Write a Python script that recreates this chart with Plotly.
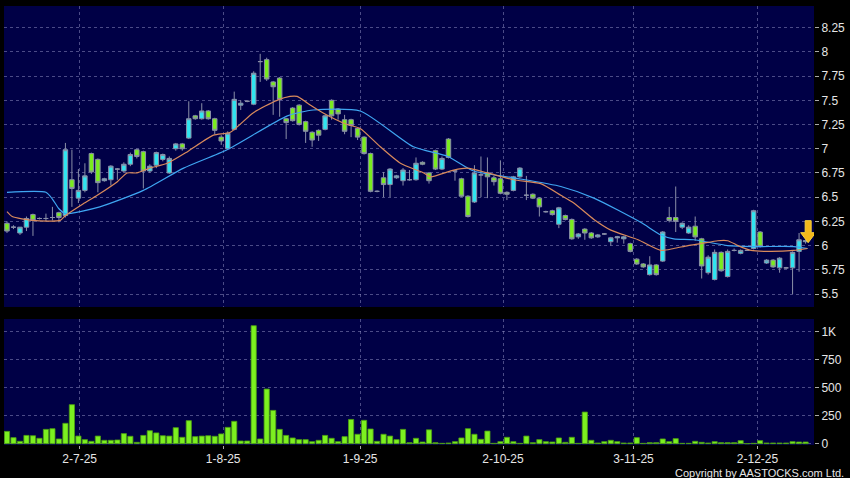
import plotly.graph_objects as go
from plotly.subplots import make_subplots

# daily candles, oldest first (one entry per trading session)
opens = [6.23, 6.19, 6.13, 6.19, 6.32, 6.28, 6.28, 6.29, 6.34, 6.31,
         6.68, 6.49, 6.57, 6.95, 6.89, 6.67, 6.68, 6.79, 6.77, 6.84,
         6.99, 6.97, 6.77, 6.83, 6.89, 6.75, 7.00, 7.05, 7.11, 7.34,
         7.31, 7.39, 7.31, 7.12, 7.00, 7.20, 7.45, 7.49, 7.46, 7.90,
         7.92, 7.69, 7.73, 7.31, 7.42, 7.45, 7.28, 7.17, 7.19, 7.20,
         7.50, 7.41, 7.30, 7.30, 7.21, 7.12, 6.95, 6.56, 6.70, 6.63,
         6.70, 6.67, 6.68, 6.68, 6.86, 6.75, 6.98, 6.79, 7.10, 6.77,
         6.69, 6.51, 6.45, 6.73, 6.75, 6.70, 6.69, 6.55, 6.57, 6.71,
         6.52, 6.53, 6.49, 6.35, 6.36, 6.22, 6.31, 6.27, 6.09, 6.17,
         6.13, 6.09, 6.12, 6.04, 6.08, 6.07, 6.02, 5.86, 5.81, 5.70,
         5.80, 5.84, 6.29, 6.29, 6.19, 6.13, 6.20, 6.07, 5.72, 5.65,
         5.93, 5.68, 5.95, 5.92, 5.95, 5.97, 6.14, 5.82, 5.85, 5.77,
         5.77, 5.77, 5.94, 6.04]
highs = [6.25, 6.21, 6.19, 6.30, 6.33, 6.29, 6.33, 6.40, 6.35, 7.06,
         6.99, 6.79, 6.85, 6.96, 6.90, 6.70, 6.83, 6.80, 6.86, 6.96,
         7.00, 6.98, 6.84, 6.97, 6.95, 6.92, 7.06, 7.06, 7.49, 7.35,
         7.47, 7.40, 7.32, 7.14, 7.18, 7.59, 7.50, 7.50, 7.80, 7.98,
         7.94, 7.70, 7.74, 7.32, 7.43, 7.46, 7.29, 7.18, 7.20, 7.35,
         7.51, 7.42, 7.35, 7.31, 7.22, 7.13, 6.96, 6.57, 6.76, 6.80,
         6.73, 6.80, 6.78, 6.91, 6.87, 6.76, 6.99, 6.92, 7.11, 6.78,
         6.70, 6.52, 6.83, 6.92, 6.91, 6.72, 6.88, 6.56, 6.72, 6.81,
         6.72, 6.54, 6.50, 6.36, 6.37, 6.40, 6.32, 6.28, 6.13, 6.18,
         6.14, 6.12, 6.13, 6.09, 6.10, 6.10, 6.03, 5.87, 5.82, 5.89,
         5.81, 6.15, 6.40, 6.61, 6.24, 6.21, 6.30, 6.08, 5.90, 5.96,
         5.94, 5.96, 5.97, 5.96, 5.96, 6.37, 6.15, 5.86, 5.86, 5.88,
         5.78, 5.94, 6.13, 6.06]
lows = [6.13, 6.17, 6.11, 6.15, 6.10, 6.27, 6.25, 6.26, 6.24, 6.29,
        6.40, 6.44, 6.55, 6.74, 6.55, 6.66, 6.62, 6.68, 6.75, 6.82,
        6.90, 6.59, 6.75, 6.80, 6.87, 6.74, 6.98, 6.98, 7.10, 7.30,
        7.30, 7.30, 7.15, 7.04, 6.99, 7.19, 7.40, 7.48, 7.45, 7.69,
        7.70, 7.35, 7.33, 7.10, 7.28, 7.24, 7.06, 7.02, 7.08, 7.19,
        7.30, 7.30, 7.15, 7.12, 7.09, 6.94, 6.55, 6.55, 6.50, 6.50,
        6.69, 6.62, 6.67, 6.67, 6.83, 6.64, 6.78, 6.78, 6.90, 6.67,
        6.50, 6.29, 6.44, 6.50, 6.49, 6.62, 6.53, 6.47, 6.56, 6.70,
        6.47, 6.48, 6.30, 6.34, 6.31, 6.18, 6.26, 6.06, 6.07, 6.06,
        6.07, 6.08, 6.11, 6.00, 6.03, 6.02, 5.93, 5.80, 5.77, 5.69,
        5.69, 5.83, 6.24, 6.14, 6.17, 6.12, 6.05, 5.66, 5.70, 5.64,
        5.73, 5.67, 5.94, 5.91, 5.95, 5.96, 5.98, 5.81, 5.77, 5.72,
        5.76, 5.50, 5.73, 6.02]
closes = [6.15, 6.19, 6.19, 6.28, 6.26, 6.28, 6.28, 6.29, 6.29, 6.99,
          6.59, 6.57, 6.72, 6.76, 6.65, 6.69, 6.82, 6.79, 6.84, 6.94,
          6.92, 6.77, 6.82, 6.96, 6.94, 6.90, 7.05, 7.00, 7.31, 7.31,
          7.39, 7.31, 7.19, 7.08, 7.16, 7.51, 7.47, 7.49, 7.78, 7.90,
          7.72, 7.64, 7.51, 7.27, 7.29, 7.25, 7.18, 7.09, 7.14, 7.34,
          7.34, 7.36, 7.18, 7.24, 7.12, 6.95, 6.56, 6.56, 6.63, 6.79,
          6.72, 6.78, 6.68, 6.85, 6.84, 6.67, 6.79, 6.90, 6.91, 6.77,
          6.51, 6.30, 6.75, 6.73, 6.71, 6.66, 6.54, 6.53, 6.71, 6.80,
          6.52, 6.49, 6.40, 6.35, 6.32, 6.39, 6.27, 6.07, 6.12, 6.13,
          6.08, 6.11, 6.12, 6.08, 6.09, 6.09, 5.94, 5.81, 5.78, 5.80,
          5.70, 6.14, 6.26, 6.25, 6.23, 6.19, 6.09, 5.79, 5.88, 5.93,
          5.74, 5.94, 5.95, 5.95, 5.95, 6.36, 5.99, 5.85, 5.78, 5.87,
          5.77, 5.93, 6.06, 6.05]
volumes = [110, 54, 21, 74, 71, 48, 128, 134, 42, 182,
           349, 68, 36, 21, 68, 30, 30, 33, 90, 66,
           12, 74, 116, 96, 71, 68, 143, 57, 206, 63,
           68, 71, 66, 87, 146, 200, 24, 24, 1056, 42,
           489, 298, 128, 74, 51, 36, 36, 18, 30, 74,
           48, 18, 63, 217, 84, 209, 131, 21, 84, 68,
           36, 128, 9, 48, 15, 124, 9, 3, 6, 18,
           51, 134, 84, 39, 113, 3, 18, 57, 18, 3,
           68, 9, 36, 18, 15, 51, 12, 57, 3, 283,
           30, 6, 18, 30, 18, 6, 6, 54, 3, 9,
           9, 42, 18, 45, 3, 3, 21, 12, 6, 18,
           9, 9, 9, 27, 0, 3, 27, 6, 6, 6,
           6, 18, 15, 15]

# moving averages (session position, price)
ma_fast_pos = [0, 0.8, 4, 8.2, 9, 11.7, 13.9, 17, 18.5, 20, 22, 24.7, 27.8, 31.8,
               34.4, 37.9, 41.6, 43.6, 44.7, 46.3, 48.7, 52.4, 54.4, 57.5, 60.6,
               64.2, 65.2, 68.8, 70.9, 74, 78, 82.2, 85.3, 87.3, 90.4, 93, 97.2,
               100.7, 102.7, 104.9, 106.9, 109.5, 111, 112.6, 114.6, 117.2, 121.2, 123.3]
ma_fast = [6.35, 6.30, 6.26, 6.26, 6.31, 6.43, 6.52, 6.66, 6.75, 6.75, 6.80, 6.85, 6.97, 7.14,
           7.17, 7.37, 7.50, 7.54, 7.54, 7.47, 7.37, 7.25, 7.21, 7.02, 6.85,
           6.75, 6.71, 6.78, 6.80, 6.75, 6.68, 6.64, 6.52, 6.44, 6.27, 6.16, 6.06,
           5.95, 5.97, 6.00, 6.02, 6.05, 6.05, 6.00, 5.95, 5.94, 5.95, 5.97]
ma_slow_pos = [0, 6, 7, 8, 9, 14.3, 21, 27.2, 33.9, 43.2, 47.2, 54.4, 62.6, 67.9,
               71.9, 78, 85.3, 90.4, 97.6, 100.7, 102.7, 105.8, 111, 115, 121.2, 123.3]
ma_slow = [6.55, 6.55, 6.48, 6.38, 6.33, 6.40, 6.57, 6.80, 6.99, 7.34, 7.40, 7.39, 7.02, 6.92,
           6.77, 6.70, 6.61, 6.49, 6.24, 6.11, 6.07, 6.06, 6.00, 5.99, 5.99, 5.97]

date_pos = [11.2, 33.3, 54.4, 76.4, 96.5, 115.6]
date_labels = ["2-7-25", "1-8-25", "1-9-25", "2-10-25", "3-11-25", "2-12-25"]
price_ticks = [5.5, 5.75, 6, 6.25, 6.5, 6.75, 7, 7.25, 7.5, 7.75, 8, 8.25]
vol_ticks = [0, 250, 500, 750, 1000]
vol_labels = ["0", "250", "500", "750", "1K"]

days = list(range(len(closes)))

GRID = "rgba(150,150,200,0.5)"
TXT = "#e6e6e6"
FONT = "Liberation Sans"

fig = make_subplots(rows=2, cols=1, shared_xaxes=True)

fig.add_trace(
	go.Candlestick(
		x=days, open=opens, high=highs, low=lows, close=closes,
		increasing=dict(fillcolor="#30e4f0", line=dict(color="#8a8fa8", width=1)),
		decreasing=dict(fillcolor="#7aec1e", line=dict(color="#8a8fa8", width=1)),
		hoverinfo="skip", showlegend=False,
	),
	row=1, col=1,
)
fig.add_trace(
	go.Scatter(x=ma_slow_pos, y=ma_slow, mode="lines", line=dict(color="#3fa6f2", width=1.2, shape="spline", smoothing=0.6),
	           hoverinfo="skip", showlegend=False),
	row=1, col=1,
)
fig.add_trace(
	go.Scatter(x=ma_fast_pos, y=ma_fast, mode="lines", line=dict(color="#d98a5c", width=1.2, shape="spline", smoothing=0.6),
	           hoverinfo="skip", showlegend=False),
	row=1, col=1,
)
fig.add_trace(
	go.Bar(x=days, y=volumes, marker=dict(color="#7cf020", line=dict(color="#4c9e12", width=0.8)),
	       hoverinfo="skip", showlegend=False),
	row=2, col=1,
)

# last-price marker: down arrow drawn in pixels, tip anchored at the last close
fig.add_shape(
	type="path", xref="x", yref="y",
	xsizemode="pixel", ysizemode="pixel", xanchor=123.4, yanchor=6.03,
	path="M -3 22 L 3 22 L 3 10 L 7.5 10 L 0 0 L -7.5 10 L -3 10 Z",
	fillcolor="#f4b81a", line=dict(color="#f7d03a", width=1), layer="above",
)
fig.add_annotation(
	text="Copyright by AASTOCKS.com Ltd.", xref="paper", yref="paper",
	x=1.039, y=-0.064, xanchor="right", yanchor="middle", showarrow=False,
	font=dict(family=FONT, size=11, color=TXT),
)

x_range = [-0.46, 124.3]
fig.update_xaxes(
	range=x_range, tickvals=date_pos, ticktext=date_labels, showgrid=True,
	gridcolor=GRID, griddash="3px,3px", gridwidth=1, zeroline=False,
	rangeslider_visible=False, showline=False,
)
fig.update_xaxes(showticklabels=False, ticks="", row=1, col=1)
fig.update_xaxes(ticks="outside", ticklen=3, tickcolor="#aaaaaa",
                 tickfont=dict(family=FONT, size=12, color=TXT), row=2, col=1)

fig.update_yaxes(
	side="right", showgrid=True, gridcolor=GRID, griddash="3px,3px", gridwidth=1,
	zeroline=False, ticks="outside", ticklen=4, tickcolor="#aaaaaa",
	tickfont=dict(family=FONT, size=12, color=TXT), showline=False,
)
fig.update_yaxes(range=[5.366, 8.474], tickvals=price_ticks,
                 ticktext=[f"{t:g}" for t in price_ticks], domain=[0.3144, 1], row=1, col=1)
fig.update_yaxes(range=[-12, 1116], tickvals=vol_ticks, ticktext=vol_labels,
                 domain=[0, 0.287], row=2, col=1)

fig.update_layout(
	width=850, height=478,
	margin=dict(l=4, r=36, t=6, b=33),
	paper_bgcolor="#000000",
	plot_bgcolor="#000046",
	boxgap=0.02,
	bargap=0.2,
	showlegend=False,
)

fig.write_html(
	"out.html",
	config={"displayModeBar": False},
	post_script="document.body.style.margin='0';document.body.style.background='#000';",
)
